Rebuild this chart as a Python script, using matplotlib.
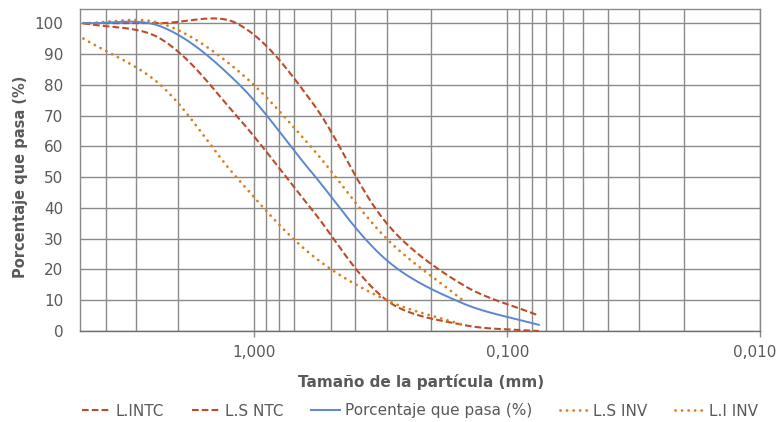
import numpy as np
import matplotlib
matplotlib.use("Agg")
import matplotlib.pyplot as plt
from matplotlib.transforms import ScaledTranslation

# ---- data (sieve openings in mm, % passing) ----
sizes_mm = [4.75, 2.36, 1.18, 0.6, 0.3, 0.15, 0.075]
li_ntc = [100, 95, 70, 40, 10, 2, 0]
ls_ntc = [100, 100, 100, 75, 35, 15, 5]
muestra = [100, 99, 81, 52, 23, 9, 2]
sizes_inv = [4.75, 2.36, 1.18, 0.6, 0.3, 0.15]
ls_inv = [100, 100, 85, 60, 30, 10]
li_inv = [95, 80, 50, 25, 10, 2]

major_ticks = [1.0, 0.1, 0.01]
major_labels = ["1,000", "0,100", "0,010"]
minor_grid = [3.85, 2.95, 2, 0.9, 0.8, 0.7, 0.5, 0.4, 0.3, 0.2,
              0.09, 0.08, 0.07, 0.06, 0.05, 0.04, 0.03, 0.02]
y_ticks = list(range(0, 101, 10))

RED = "#BE4B28"
ORANGE = "#D97E1E"
BLUE = "#5B87D0"
GRID = "#8A8A8A"
TXT = "#595959"

W, H = 782, 422
fig = plt.figure(figsize=(W / 100, H / 100), dpi=100)
ax = fig.add_axes([80 / W, (H - 331) / H, 680 / W, 321.7 / H])
ax.set_xscale("log")
ax.set_xlim(4.9, 0.0102)
ax.set_ylim(0, 104.5)


def excel_smooth(xs, ys, n=40):
    P = ax.transData.transform(np.column_stack([xs, ys]))
    m = len(P)
    out = [P[0]]
    for i in range(m - 1):
        p0 = P[i - 1] if i > 0 else P[i]
        p1, p2 = P[i], P[i + 1]
        p3 = P[i + 2] if i + 2 < m else P[i + 1]
        d01 = np.linalg.norm(p1 - p0)
        d12 = np.linalg.norm(p2 - p1)
        d23 = np.linalg.norm(p3 - p2)
        f1 = d12 / (d01 + d12) / 3 if d01 + d12 > 0 else 0
        f2 = d12 / (d12 + d23) / 3 if d12 + d23 > 0 else 0
        c1 = p1 + (p2 - p0) * f1
        c2 = p2 - (p3 - p1) * f2
        t = np.linspace(0, 1, n)[1:, None]
        seg = (1 - t) ** 3 * p1 + 3 * (1 - t) ** 2 * t * c1 + 3 * (1 - t) * t ** 2 * c2 + t ** 3 * p2
        out.extend(seg)
    out = ax.transData.inverted().transform(np.array(out))
    return out[:, 0], out[:, 1]


dash = (0, (3.2, 1.5))
dot = (0, (0.05, 2.3))

x, y = excel_smooth(sizes_mm, li_ntc)
ax.plot(x, y, color=RED, lw=1.5, linestyle=dash, label="L.INTC", zorder=3)
x, y = excel_smooth(sizes_mm, ls_ntc)
ax.plot(x, y, color=RED, lw=1.5, linestyle=dash, label="L.S NTC", zorder=3)
x, y = excel_smooth(sizes_mm, muestra)
ax.plot(x, y, color=BLUE, lw=1.4, label="Porcentaje que pasa (%)", zorder=4)
x, y = excel_smooth(sizes_inv, ls_inv)
ax.plot(x, y, color=ORANGE, lw=2.0, linestyle=dot, dash_capstyle="round",
        label="L.S INV", zorder=3)
x, y = excel_smooth(sizes_inv, li_inv)
ax.plot(x, y, color=ORANGE, lw=2.0, linestyle=dot, dash_capstyle="round",
        label="L.I INV", zorder=3)

# axes styling
ax.set_xticks(major_ticks)
ax.set_xticklabels(major_labels)
ax.set_xticks(minor_grid, minor=True)
ax.set_xticklabels([], minor=True)
ax.set_yticks(y_ticks)
ax.grid(True, which="major", color=GRID, lw=1.0)
ax.grid(True, which="minor", axis="x", color=GRID, lw=1.0)
ax.set_axisbelow(True)
ax.tick_params(axis="x", which="major", length=4, width=1, color=GRID,
               labelsize=11, labelcolor=TXT, pad=6, direction="out")
ax.tick_params(axis="x", which="minor", length=0)
ax.tick_params(axis="y", length=0, labelsize=11, labelcolor=TXT, pad=12)
for s in ax.spines.values():
    s.set_color(GRID)
    s.set_linewidth(1.0)
ax.spines["bottom"].set_color("#6E6E6E")

# keep the last tick label inside the figure, as in the reference
last = ax.get_xticklabels()[-1]
last.set_transform(last.get_transform() +
                   ScaledTranslation(-5 / 100, 0, fig.dpi_scale_trans))

fig.text(20.5 / W, 1 - 177 / H, "Porcentaje que pasa (%)", rotation=90,
         ha="center", va="center", fontsize=10.5, fontweight="bold", color=TXT)
fig.text(421 / W, 1 - 382 / H, "Tamaño de la partícula (mm)",
         ha="center", va="center", fontsize=11, fontweight="bold", color=TXT)

fig.legend(loc="center", bbox_to_anchor=(420 / W, 1 - 411 / H), ncol=5,
           frameon=False, fontsize=11, handlelength=1.9, handletextpad=0.3,
           columnspacing=1.8, labelcolor=TXT)

fig.savefig("out.png", dpi=100)
